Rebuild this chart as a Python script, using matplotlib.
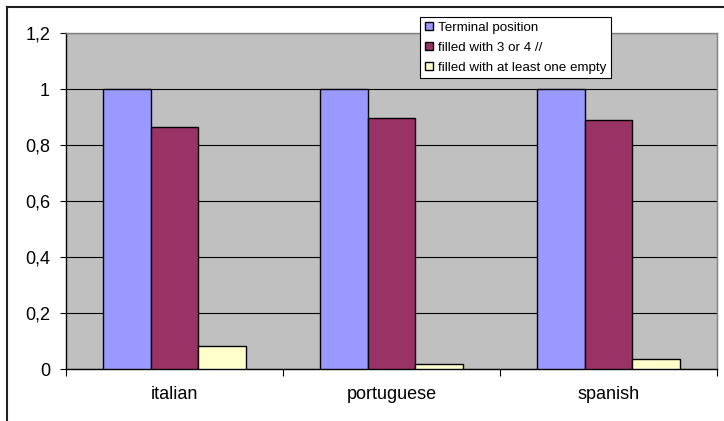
import matplotlib.pyplot as plt
import numpy as np
from matplotlib.lines import Line2D

plt.rcParams.update({
    'font.family': ['Liberation Sans', 'DejaVu Sans'],
    'font.size': 13,
})

# languages and the three position measures
languages = ['italian', 'portuguese', 'spanish']
terminal = [1.0, 1.0, 1.0]
filled_3_4 = [0.865, 0.897, 0.89]
one_empty = [0.081, 0.017, 0.035]

series_names = ['Terminal position', 'filled with 3 or 4 //',
                'filled with at least one empty']
series_colors = ['#9999FF', '#993366', '#FFFFCC']

y_ticks = [0, 0.2, 0.4, 0.6, 0.8, 1.0, 1.2]
y_tick_labels = ['0', '0,2', '0,4', '0,6', '0,8', '1', '1,2']

fig = plt.figure(figsize=(7.24, 4.21), dpi=100)
ax = fig.add_axes([66 / 724, 52 / 421, 651 / 724, 336 / 421])
ax.set_facecolor('#C0C0C0')

x = np.arange(len(languages))
w = 0.221
for i, (vals, name, col) in enumerate(zip([terminal, filled_3_4, one_empty],
                                          series_names, series_colors)):
    ax.bar(x + (i - 1) * w, vals, width=w, color=col, edgecolor='black',
           linewidth=1.0, label=name, zorder=3)

ax.set_xlim(-0.5, len(languages) - 0.5)
ax.set_ylim(0, 1.2)

# horizontal gridlines
ax.set_yticks(y_ticks)
ax.set_yticklabels(y_tick_labels)
ax.yaxis.grid(True, color='black', linewidth=0.8, zorder=1)
ax.set_axisbelow(True)
ax.tick_params(axis='y', direction='out', length=4.5, width=0.8, pad=7,
               colors='black', labelsize=13)

# category boundaries get the tick marks, names sit between them
ax.set_xticks(np.arange(len(languages) + 1) - 0.5)
ax.set_xticklabels([])
ax.set_xticks(x, minor=True)
ax.set_xticklabels(languages, minor=True)
ax.tick_params(axis='x', which='major', direction='out', length=5, width=0.8)
ax.tick_params(axis='x', which='minor', length=0, pad=12.5, labelsize=13)

ax.spines['left'].set_color('black')
ax.spines['bottom'].set_color('black')
ax.spines['top'].set_color('#808080')
ax.spines['right'].set_color('#808080')
for s in ax.spines.values():
    s.set_linewidth(1.0)

leg = fig.legend(loc='upper left', bbox_to_anchor=(420 / 724, 1 - 17 / 421),
                 bbox_transform=fig.transFigure, fontsize=9.6, frameon=True,
                 fancybox=False, edgecolor='black', framealpha=1,
                 handlelength=0.6, handleheight=0.6, handletextpad=0.4,
                 labelspacing=0.6, borderpad=0.35, borderaxespad=0)
leg.get_frame().set_linewidth(0.8)

# chart area border
fig.add_artist(Line2D([7 / 724, 7 / 724], [0, 1 - 7 / 421], color='#202020',
                      linewidth=1.5, transform=fig.transFigure))
fig.add_artist(Line2D([7 / 724, 1], [1 - 7 / 421, 1 - 7 / 421], color='#202020',
                      linewidth=1.5, transform=fig.transFigure))

fig.savefig('out.png', dpi=100)
